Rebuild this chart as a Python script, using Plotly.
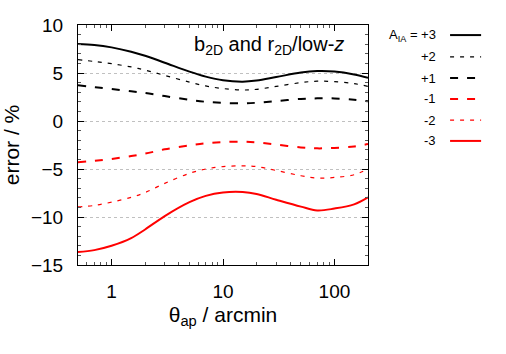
import plotly.graph_objects as go

# aperture scale in arcmin
theta = [0.5, 0.7, 1, 1.5, 2, 3, 5, 7, 10, 15, 20, 30, 50, 70, 100, 150, 200]

# relative error (%) for each intrinsic alignment amplitude
err_p3 = [8.03, 7.92, 7.67, 7.22, 6.8, 6.07, 5.14, 4.62, 4.24, 4.1, 4.22, 4.58, 5.05, 5.2, 5.15, 4.85, 4.5]
err_p2 = [6.4, 6.2, 5.97, 5.63, 5.3, 4.75, 4.05, 3.65, 3.38, 3.23, 3.3, 3.6, 4.0, 4.15, 4.1, 3.9, 3.6]
err_p1 = [3.72, 3.53, 3.33, 3.1, 2.92, 2.6, 2.2, 2.0, 1.88, 1.84, 1.9, 2.08, 2.3, 2.36, 2.35, 2.22, 2.05]
err_m1 = [-4.3, -4.15, -3.95, -3.65, -3.4, -2.95, -2.55, -2.32, -2.2, -2.15, -2.22, -2.45, -2.75, -2.85, -2.8, -2.65, -2.4]
err_m2 = [-8.95, -8.8, -8.45, -7.95, -7.45, -6.5, -5.45, -5.0, -4.75, -4.67, -4.75, -5.15, -5.7, -5.95, -5.88, -5.6, -5.0]
err_m3 = [-13.65, -13.45, -13.0, -12.2, -11.3, -9.9, -8.45, -7.8, -7.45, -7.4, -7.6, -8.2, -8.92, -9.32, -9.12, -8.68, -7.95]

labels = ["A<sub>IA</sub> = +3", "+2", "+1", "-1", "-2", "-3"]

series = [err_p3, err_p2, err_p1, err_m1, err_m2, err_m3]
styles = [
    ("black", 2, "solid"),
    ("black", 1.2, "4px,6px"),
    ("black", 2, "8px,9px"),
    ("#ff0000", 2, "8px,9px"),
    ("#ff0000", 1.2, "4px,6px"),
    ("#ff0000", 2, "solid"),
]

FONT = "Liberation Sans, Arial, sans-serif"

fig = go.Figure()

for ys, (col, w, dash) in zip(series, styles):
    fig.add_trace(go.Scatter(
        x=theta, y=ys, mode="lines",
        line=dict(color=col, width=w, dash=dash, shape="spline", smoothing=1.0),
        showlegend=False, hoverinfo="skip",
    ))

# hand-made legend to the right of the plot (gnuplot style: text then sample)
row_y = [0.958, 0.867, 0.779, 0.692, 0.604, 0.517]
for lab, ry, (col, w, dash) in zip(labels, row_y, styles):
    fig.add_annotation(
        xref="paper", yref="paper", x=1.241, y=ry,
        text=lab, showarrow=False, xanchor="right", yanchor="middle",
        font=dict(family=FONT, size=13, color="black"),
    )
    fig.add_shape(
        type="line", xref="paper", yref="paper",
        x0=1.283, x1=1.39, y0=ry, y1=ry,
        line=dict(color=col, width=w, dash=dash),
    )

fig.add_annotation(
    xref="paper", yref="paper", x=0.925, y=0.915,
    text="b<sub>2D</sub> and r<sub>2D</sub>/low-<i>z</i>",
    showarrow=False, xanchor="right", yanchor="middle",
    font=dict(family=FONT, size=20, color="black"),
)

fig.update_xaxes(
    type="log", range=[-0.30103, 2.30103], automargin=False,
    tickvals=[1, 10, 100], ticktext=["1", "10", "100"],
    ticks="inside", ticklen=6, tickcolor="black",
    minor=dict(ticks="inside", ticklen=3, tickcolor="#555",
               tickvals=[0.6, 0.7, 0.8, 0.9, 2, 3, 4, 5, 6, 7, 8, 9,
                         20, 30, 40, 50, 60, 70, 80, 90, 200]),
    showline=True, linecolor="black", linewidth=1, mirror="allticks",
    showgrid=False, zeroline=False,
    tickfont=dict(family=FONT, size=19, color="black"),
    ticklabelstandoff=9,
    title=dict(text="θ<sub>ap</sub> / arcmin", standoff=6,
               font=dict(family=FONT, size=21, color="black")),
)

fig.update_yaxes(
    range=[-15, 10], dtick=5, automargin=False,
    ticks="inside", ticklen=6, tickcolor="black",
    minor=dict(ticks="inside", ticklen=3, dtick=1, tickcolor="#555"),
    showline=True, linecolor="black", linewidth=1, mirror="allticks",
    showgrid=True, gridcolor="#c0c0c0", griddash="dot", gridwidth=1,
    zeroline=False,
    tickfont=dict(family=FONT, size=19, color="black"),
    ticklabelstandoff=10,
    title=dict(text="error / %", standoff=10,
               font=dict(family=FONT, size=21, color="black")),
)

fig.update_layout(
    width=506, height=354,
    margin=dict(l=78, r=138, t=25, b=89),
    plot_bgcolor="white", paper_bgcolor="white",
)

# drop the browser's default body margin so the figure sits at (0, 0)
fig.write_html("out.html", config={"displayModeBar": False},
               post_script="document.body.style.margin='0';")
